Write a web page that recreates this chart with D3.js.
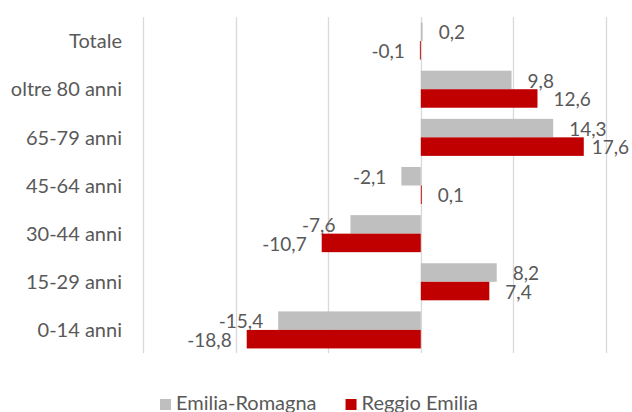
<!DOCTYPE html>
<html>
<head>
<meta charset="utf-8">
<script src="https://cdn.jsdelivr.net/npm/d3@7"></script>
<style>
  body { margin: 0; background: #fff; }
  svg text { font-family: Lato, "Open Sans", sans-serif; fill: #595959; }
</style>
</head>
<body>
<svg id="chart"></svg>
<script>
// categories (top to bottom)
var categories = ["Totale", "oltre 80 anni", "65-79 anni", "45-64 anni", "30-44 anni", "15-29 anni", "0-14 anni"];
var series = ["Emilia-Romagna", "Reggio Emilia"];
var colors = ["#BFBFBF", "#C00000"];
// variazioni %
var emiliaRomagna = [0.2, 9.8, 14.3, -2.1, -7.6, 8.2, -15.4];
var reggioEmilia = [-0.1, 12.6, 17.6, 0.1, -10.7, 7.4, -18.8];
var gridTicks = [-30, -20, -10, 0, 10, 20];

var width = 632, height = 412;
var svg = d3.select("#chart").attr("width", width).attr("height", height);

var x = d3.scaleLinear().domain([-30, 20]).range([143, 606]);
var y = d3.scaleBand().domain(categories).range([17, 354]).padding(0);
var ySub = d3.scaleBand().domain(series).range([0, y.bandwidth()]).paddingOuter(0.3).paddingInner(0);

var fmt = function(v) { return String(v).replace(".", ","); };

// griglia verticale
svg.append("g")
  .selectAll("line")
  .data(gridTicks)
  .enter()
  .append("line")
  .attr("x1", function(d) { return Math.round(x(d)) + 0.5; })
  .attr("x2", function(d) { return Math.round(x(d)) + 0.5; })
  .attr("y1", 17)
  .attr("y2", 353)
  .attr("stroke", "#D9D9D9")
  .attr("stroke-width", 1.3);

// etichette categorie
svg.append("g")
  .selectAll("text")
  .data(categories)
  .enter()
  .append("text")
  .attr("x", 122)
  .attr("y", function(d) { return y(d) + y.bandwidth() / 2; })
  .attr("dy", "0.36em")
  .attr("text-anchor", "end")
  .attr("font-size", 20)
  .text(function(d) { return d; });

var rows = [];
categories.forEach(function(c, i) {
  rows.push({ cat: c, s: series[0], v: emiliaRomagna[i], col: colors[0] });
  rows.push({ cat: c, s: series[1], v: reggioEmilia[i], col: colors[1] });
});

// barre
svg.append("g")
  .selectAll("rect")
  .data(rows)
  .enter()
  .append("rect")
  .attr("x", function(d) { return x(Math.min(0, d.v)); })
  .attr("y", function(d) { return y(d.cat) + ySub(d.s); })
  .attr("width", function(d) { return Math.abs(x(d.v) - x(0)); })
  .attr("height", ySub.bandwidth())
  .attr("fill", function(d) { return d.col; });

// etichette valori
svg.append("g")
  .selectAll("text")
  .data(rows)
  .enter()
  .append("text")
  .attr("x", function(d) { return d.v >= 0 ? x(d.v) + 16 : x(d.v) - 15; })
  .attr("y", function(d) { return y(d.cat) + ySub(d.s) + ySub.bandwidth() / 2; })
  .attr("dy", "0.4em")
  .attr("text-anchor", function(d) { return d.v >= 0 ? "start" : "end"; })
  .attr("font-size", 19)
  .text(function(d) { return fmt(d.v); })
  .each(function(d) {
    // come Excel: sposta a sinistra se esce dal grafico
    var w = this.getComputedTextLength();
    var x0 = +d3.select(this).attr("x");
    if (d.v >= 0 && x0 + w > 629) d3.select(this).attr("x", 629 - w);
  });

// legenda
var legend = svg.append("g");
var items = legend.selectAll("g")
  .data(series)
  .enter()
  .append("g");
items.append("rect")
  .attr("width", 11).attr("height", 11)
  .attr("y", 399)
  .attr("fill", function(d, i) { return colors[i]; });
items.append("text")
  .attr("x", 16)
  .attr("y", 410)
  .attr("font-size", 20)
  .text(function(d) { return d; });

var xpos = 0, offs = [];
items.each(function() {
  offs.push(xpos);
  xpos += this.getBBox().width + 29;
});
var total = xpos - 29;
var start = 319 - total / 2;
items.attr("transform", function(d, i) { return "translate(" + (start + offs[i]) + ",0)"; });
</script>
</body>
</html>
